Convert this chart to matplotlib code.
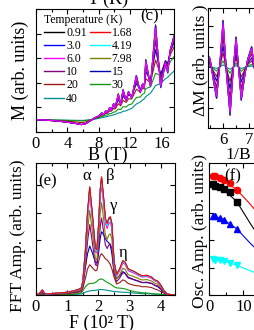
import numpy as np
import matplotlib
matplotlib.use("Agg")
import matplotlib.pyplot as plt
from matplotlib.ticker import MultipleLocator
from matplotlib.lines import Line2D

plt.rcParams['font.family'] = ['Liberation Serif', 'DejaVu Serif']
plt.rcParams['mathtext.fontset'] = 'stix'

# temperatures, colours and oscillation amplitude factors
temps = ['0.91', '1.68', '3.0', '4.19', '6.0', '7.98', '10', '15', '20', '30', '40']
colors = ['black', 'red', 'blue', 'cyan', 'magenta', '#808000', '#800080',
          '#0000b0', '#9a1a1a', '#119911', '#009090']
amp_fac = [0.99, 1.0, 0.98, 0.97, 0.93, 0.78, 0.65, 0.45, 0.3, 0.13, 0.045]

# panel (c): M(B) at lowest T and the smooth backgrounds
B_low = [0, 1, 2, 3, 4, 5, 5.8, 6.3, 7.0, 7.5, 8.0, 8.4, 8.6, 8.9, 9.1, 9.4, 9.6,
         9.9, 10.1, 10.5, 10.8, 11.1, 11.5, 11.8, 12.2, 12.8, 13.3, 13.6, 13.8,
         14.0, 14.6, 15.25, 15.9, 16.5, 16.8, 17.1, 17.6]
M_low = [0, -0.01, -0.03, -0.06, -0.1, -0.15, -0.2, -0.17, -0.02, 0.08, 0.15,
         0.28, 0.2, 0.36, 0.27, 0.5, 0.38, 0.66, 0.5, 1.05, 0.62, 1.22, 0.78,
         1.15, 0.88, 1.8, 1.1, 1.45, 1.25, 2.44, 1.35, 3.86, 1.3, 2.3, 1.9, 2.8, 3.4]
bg_B = [0, 4, 6, 7, 8, 10, 12, 14, 16, 17.6]
bg_cold = [0, -0.1, -0.2, -0.05, 0.12, 0.5, 0.95, 1.55, 2.3, 2.9]
bg_20 = [0, -0.06, -0.12, -0.02, 0.1, 0.42, 0.82, 1.4, 2.15, 2.8]
bg_30 = [0, -0.03, -0.05, 0.0, 0.08, 0.3, 0.6, 1.15, 1.95, 2.5]
bg_40 = [0, -0.02, -0.03, 0.0, 0.05, 0.2, 0.42, 0.9, 1.55, 1.95]
bg_list = [bg_cold] * 8 + [bg_20, bg_30, bg_40]

# panel top right: dM vs 1/B at lowest T
invB = [5.42, 5.5, 5.62, 5.75, 5.88, 6.0, 6.13, 6.27, 6.38, 6.5, 6.6, 6.7, 6.85,
        6.95, 7.1, 7.22, 7.35, 7.5, 7.65, 7.8, 8.0]
dM_low = [0.6, 0.4, -0.6, -1.55, 0.2, 2.3, -0.3, -2.38, -0.3, 1.48, -0.1, -1.64,
          -0.3, 0.4, 1.0, -0.2, -1.0, 0.3, 0.8, -0.5, 0.5]

# panel (e): FFT spectra
F = [0, 0.1, 0.2, 0.3, 0.5, 0.8, 1.0, 1.2, 1.35, 1.45, 1.5, 1.58, 1.65, 1.72,
     1.8, 1.9, 1.95, 2.0, 2.06, 2.1, 2.16, 2.22, 2.28, 2.33, 2.38, 2.43, 2.5,
     2.58, 2.68, 2.78, 2.85, 2.95, 3.05, 3.15, 3.3, 3.4, 3.55, 3.7, 3.8, 3.9,
     4.0, 4.1, 4.2, 4.45]
fft_low = [0, 0.05, 0.18, 0.03, 0.05, 0.08, 0.1, 0.15, 0.2, 0.25, 0.5, 1.6, 3.0,
           3.94, 3.0, 1.7, 1.64, 2.5, 3.9, 4.3, 3.6, 2.8, 2.6, 2.8, 2.85, 2.6,
           1.2, 0.75, 0.95, 1.25, 1.2, 0.95, 0.9, 0.85, 0.75, 0.7, 0.72, 0.65,
           0.55, 0.5, 0.35, 0.15, 0.03, 0.0]
fft_15 = [0, 0.03, 0.1, 0.02, 0.04, 0.06, 0.08, 0.1, 0.14, 0.18, 0.35, 1.0, 1.5,
          1.78, 1.55, 1.2, 1.16, 1.5, 2.1, 2.3, 2.2, 2.05, 1.95, 1.9, 1.8, 1.5,
          0.8, 0.6, 0.7, 0.85, 0.8, 0.65, 0.6, 0.55, 0.5, 0.45, 0.45, 0.42, 0.35,
          0.3, 0.2, 0.1, 0.02, 0]
fft_20 = [0, 0.02, 0.05, 0.01, 0.02, 0.04, 0.05, 0.07, 0.1, 0.12, 0.25, 0.6, 0.95,
          1.1, 1.0, 0.88, 0.9, 1.2, 1.45, 1.5, 1.42, 1.32, 1.27, 1.2, 1.1, 0.95,
          0.65, 0.4, 0.45, 0.55, 0.52, 0.42, 0.38, 0.35, 0.33, 0.3, 0.3, 0.27,
          0.22, 0.18, 0.12, 0.06, 0.02, 0]
fft_30 = [0, 0.01, 0.02, 0.0, 0.01, 0.02, 0.02, 0.03, 0.05, 0.08, 0.15, 0.3, 0.38,
          0.42, 0.42, 0.45, 0.5, 0.55, 0.58, 0.58, 0.55, 0.5, 0.46, 0.43, 0.4,
          0.36, 0.3, 0.26, 0.25, 0.24, 0.22, 0.18, 0.15, 0.12, 0.1, 0.08, 0.07,
          0.05, 0.04, 0.03, 0.02, 0.01, 0.0, 0]
fft_40 = [0, 0, 0.01, 0, 0, 0.01, 0.01, 0.02, 0.03, 0.04, 0.06, 0.1, 0.13, 0.15,
          0.16, 0.17, 0.18, 0.19, 0.2, 0.2, 0.19, 0.18, 0.17, 0.16, 0.15, 0.14,
          0.13, 0.12, 0.11, 0.1, 0.1, 0.09, 0.08, 0.07, 0.06, 0.05, 0.05, 0.04,
          0.03, 0.03, 0.02, 0.01, 0, 0]

# panel (f): peak amplitude vs T with fits
T_pts = [0.91, 1.68, 3.0, 4.19, 6.0, 7.98]
amp_beta = [4.33, 4.31, 4.25, 4.18, 4.09, 3.83]
amp_alpha = [4.02, 3.98, 3.91, 3.85, 3.73, 3.4]
amp_gamma = [2.89, 2.87, 2.8, 2.72, 2.6, 2.41]
amp_eta = [1.3, 1.28, 1.26, 1.22, 1.18, 1.08]
T_fit = [0.91, 4, 8, 12, 16, 20, 30, 40]
fit_beta = [4.33, 4.18, 3.83, 3.3, 2.7, 2.15, 1.05, 0.4]
fit_alpha = [4.02, 3.85, 3.4, 2.6, 1.85, 1.25, 0.45, 0.15]
fit_gamma = [2.9, 2.75, 2.41, 1.88, 1.4, 1.0, 0.4, 0.12]
fit_eta = [1.3, 1.24, 1.08, 0.88, 0.68, 0.5, 0.22, 0.08]

W, H = 255, 330
fig = plt.figure(figsize=(W / 100, H / 100), dpi=100)


def box(x0, y0, x1, y1):
    return [x0 / W, 1 - y1 / H, (x1 - x0) / W, (y1 - y0) / H]


def style(ax):
    ax.tick_params(which='both', direction='in', top=True, right=True,
                   width=0.8, labelsize=12, pad=3)
    ax.tick_params(which='major', length=3.5)
    ax.tick_params(which='minor', length=2)
    for s in ax.spines.values():
        s.set_linewidth(0.8)
    ax.set_yticklabels([])


# drawing order: warm curves underneath
order_c = [10, 9, 8, 0, 1, 3, 5, 7, 2, 6, 4]
order_e = [10, 9, 8, 7, 6, 5, 0, 2, 4, 3, 1]

# ---- panel (c)
axc = fig.add_axes(box(36, 9, 174, 132))
Bf = np.array(B_low)
osc = np.array(M_low) - np.interp(Bf, bg_B, bg_cold)
for i in order_c:
    M = np.interp(Bf, bg_B, bg_list[i]) + amp_fac[i] * osc
    axc.plot(Bf, M, color=colors[i], lw=0.8)
axc.set_xlim(0, 17.6)
axc.set_ylim(-0.5, 4.5)
axc.set_xticks([0, 4, 8, 12, 16])
axc.xaxis.set_minor_locator(MultipleLocator(2))
axc.set_yticks(np.arange(-0.5, 4.6, 1))
style(axc)
leg_order = [0, 2, 4, 6, 8, 10, 1, 3, 5, 7, 9]
axc.legend([Line2D([], [], color=colors[i], lw=1) for i in leg_order],
           [temps[i] for i in leg_order], ncol=2, frameon=False,
           loc='upper left', bbox_to_anchor=(0.0, 1.03), fontsize=8.5,
           title='Temperature (K)', title_fontsize=8.5, alignment='left',
           handlelength=1.7, handletextpad=0.15, columnspacing=0.25,
           labelspacing=0.1, borderpad=0.2)
fig.text(150 / W, 1 - 16.5 / H, '(c)', fontsize=12, ha='center', va='center')

# ---- top right panel
axd = fig.add_axes(box(208, 8, 320, 128))
xd = np.array(invB)
for i in order_c:
    axd.plot(xd, amp_fac[i] * np.array(dM_low), color=colors[i], lw=0.8)
axd.set_xlim(5.42, 9.73)
axd.set_ylim(-3.0, 2.9)
axd.set_xticks([6, 7, 8, 9])
axd.xaxis.set_minor_locator(MultipleLocator(0.5))
axd.set_yticks([-2, -1, 0, 1, 2])
style(axd)

# ---- panel (e)
axe = fig.add_axes(box(36, 163, 175, 295))
spectra = [None] * 7 + [fft_15, fft_20, fft_30, fft_40]
for i in order_e:
    y = spectra[i] if spectra[i] is not None else amp_fac[i] * np.array(fft_low)
    axe.plot(F, y, color=colors[i], lw=0.8)
axe.set_xlim(0, 4.45)
axe.set_ylim(0, 4.8)
axe.set_xticks([0, 1, 2, 3, 4])
axe.xaxis.set_minor_locator(MultipleLocator(0.5))
axe.set_yticks([0, 1, 2, 3, 4])
style(axe)
fig.text(47.5 / W, 1 - 181 / H, '(e)', fontsize=12, ha='center', va='center')
for txt, px, py in [('α', 87, 176), ('β', 110, 176), ('γ', 113.7, 206), ('η', 123.3, 253)]:
    fig.text(px / W, 1 - py / H, txt, fontsize=12, ha='center', va='center')

# ---- panel (f)
axf = fig.add_axes(box(209.5, 163, 345.5, 295))
axf.plot(T_fit, fit_beta, color='red', lw=0.8)
axf.plot(T_fit, fit_alpha, color='black', lw=0.8)
axf.plot(T_fit, fit_gamma, color='blue', lw=0.8)
axf.plot(T_fit, fit_eta, color='cyan', lw=0.8)
axf.plot(T_pts, amp_beta, 'o', color='red', ms=4.5)
axf.plot(T_pts, amp_alpha, 's', color='black', ms=4)
axf.plot(T_pts, amp_gamma, '^', color='blue', ms=4.5)
axf.plot(T_pts, amp_eta, 'v', color='cyan', ms=4.5)
axf.set_xlim(0, 40)
axf.set_ylim(0, 4.8)
axf.set_xticks([0, 10, 20, 30, 40])
axf.xaxis.set_minor_locator(MultipleLocator(5))
axf.set_yticks([0, 1, 2, 3, 4])
style(axf)
fig.text(233 / W, 1 - 176 / H, '(f)', fontsize=12, ha='center', va='center')

# axis labels
fig.text(20 / W, 1 - 70.7 / H, 'M (arb. units)', fontsize=13, rotation=90, ha='center', va='center')
fig.text(107.5 / W, 1 - 155 / H, 'B (T)', fontsize=13, ha='center', va='center')
fig.text(18 / W, 1 - 236 / H, 'FFT Amp. (arb. units)', fontsize=12.5, rotation=90, ha='center', va='center')
fig.text(101.5 / W, 1 - 323 / H, 'F (10² T)', fontsize=13, ha='center', va='center')
fig.text(200 / W, 1 - 60 / H, 'ΔM (arb. units )', fontsize=12.5, rotation=90, ha='center', va='center')
fig.text(225 / W, 1 - 154.5 / H, r'1/B (10$^{-2}$ T$^{-1}$)', fontsize=12.5, ha='left', va='center')
fig.text(200 / W, 1 - 231.5 / H, 'Osc. Amp. (arb. units)', fontsize=12.5, rotation=90, ha='center', va='center')
fig.text(108 / W, 1 - 4 / H, 'T (K)', fontsize=13, ha='center', va='baseline')

fig.savefig('out.png', dpi=100)
